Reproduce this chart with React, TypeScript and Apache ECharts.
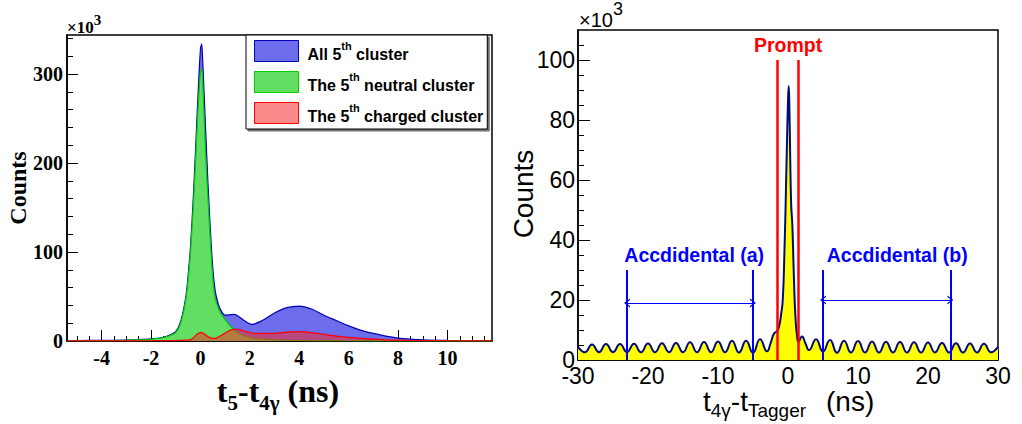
import React, { useEffect, useRef } from "react";
import * as echarts from "echarts";

// ---------- Left panel data (counts in units of 10^3) ----------
const leftX = [-5.4, -5, -4, -3, -2.5, -2, -1.5, -1.2, -1.0, -0.8, -0.6, -0.5, -0.4, -0.3, -0.2, -0.1, 0, 0.05, 0.1, 0.2, 0.3, 0.4, 0.5, 0.6, 0.7, 0.8, 1.0, 1.2, 1.35, 1.5, 1.8, 2.1, 2.5, 3.0, 3.5, 4.0, 4.5, 5.0, 5.5, 6.0, 6.5, 7.0, 7.5, 8.0, 8.5, 9.0, 10.0, 11.0, 11.8];
const allCluster = [0.4, 0.5, 0.7, 1.1, 1.6, 2.3, 4.2, 7.2, 10.5, 22, 48, 73, 107, 155, 213, 275, 328, 334, 310, 245, 180, 126, 82, 56, 44, 36, 29, 29.5, 30, 28.5, 22.5, 18.7, 23, 31.5, 37.5, 39.3, 36, 29, 23, 17, 12, 8.5, 5.5, 3.3, 2, 1.2, 0.6, 0.4, 0.3];
const neutralCluster = [0.2, 0.3, 0.4, 0.8, 1.2, 1.9, 3.7, 6.5, 9.5, 20, 45, 68, 100, 145, 200, 258, 302, 306, 285, 215, 162, 112, 70, 47, 39, 32, 24, 17, 13, 9.5, 5.5, 3.3, 2, 1.2, 0.8, 0.6, 0.5, 0.4, 0.35, 0.3, 0.25, 0.2, 0.2, 0.15, 0.1, 0.1, 0.1, 0.1, 0.1];
const chargedCluster = [0.1, 0.1, 0.15, 0.2, 0.25, 0.3, 0.35, 0.4, 0.5, 0.7, 0.9, 1.1, 1.5, 3.5, 6, 8.5, 9.4, 9.4, 9, 7, 5, 3.5, 3, 3, 4, 5.5, 9, 12, 13, 13, 11, 9, 8.5, 8.6, 10, 10.5, 9.5, 7.5, 5.5, 4, 3, 2, 1.3, 0.9, 0.6, 0.5, 0.3, 0.2, 0.2];
const leftNames = ["All 5th cluster", "The 5th neutral cluster", "The 5th charged cluster"];
const leftXMajor = [-4, -2, 0, 2, 4, 6, 8, 10];
const leftXMinor = [-5, -4.5, -3.5, -3, -2.5, -1.5, -1, -0.5, 0.5, 1, 1.5, 2.5, 3, 3.5, 4.5, 5, 5.5, 6.5, 7, 7.5, 8.5, 9, 9.5, 10.5, 11, 11.5];
const leftYMajor = [0, 100, 200, 300];
const leftYMinor = [20, 40, 60, 80, 120, 140, 160, 180, 220, 240, 260, 280, 320, 340];

// ---------- Right panel data (counts in units of 10^3) ----------
const rightX = [-30, -29, -28, -27, -26, -25, -24, -23, -22, -21, -20, -19, -18, -17, -16, -15, -14, -13, -12, -11, -10, -9, -8, -7, -6, -5, -4, -3, -2.5, -2, -1.5, -1.2, -1, -0.75, -0.5, -0.3, -0.15, 0, 0.1, 0.2, 0.3, 0.45, 0.62, 0.8, 0.95, 1.1, 1.25, 1.5, 2, 2.5, 3, 4, 5, 6, 7, 8, 9, 10, 11, 12, 13, 14, 15, 16, 17, 18, 19, 20, 21, 22, 23, 24, 25, 26, 27, 28, 29, 30];
const rightCounts = [4.4, 2.6, 5.2, 2.6, 5.3, 2.6, 5.3, 2.6, 5.4, 2.6, 5.5, 2.6, 5.6, 2.6, 5.7, 2.6, 5.9, 2.6, 6.0, 2.6, 6.2, 2.6, 6.4, 2.5, 6.4, 2.4, 6.9, 2.9, 5.5, 8.8, 9.8, 12, 15, 20, 37, 56, 72, 86, 91.3, 84, 70, 52, 45, 31, 20, 13, 9, 6, 7.8, 5.5, 3.3, 6.9, 2.8, 6.7, 2.4, 6.4, 2.5, 6.3, 2.5, 6.2, 2.5, 6.1, 2.5, 6.0, 2.5, 5.9, 2.5, 5.8, 2.5, 5.7, 2.5, 5.6, 2.5, 5.5, 2.5, 5.4, 2.6, 4.4];
const rightXMajor = [-30, -20, -10, 0, 10, 20, 30];
const rightXMinor = [-28, -26, -24, -22, -18, -16, -14, -12, -8, -6, -4, -2, 2, 4, 6, 8, 12, 14, 16, 18, 22, 24, 26, 28];
const rightYMajor = [0, 20, 40, 60, 80, 100];
const rightYMinor = [5, 10, 15, 25, 30, 35, 45, 50, 55, 65, 70, 75, 85, 90, 95, 105];

// Annotations (data coordinates)
const promptCuts = [-1.6, 1.5];
const promptTop = 100;
const accidentalCuts = [-23, -5, 5, 23.2];
const accidentalTop = 30;
const accidentalArrows = [
  [-23, -5, 19],
  [5, 23.2, 20],
];
const annotationLabels = [
  { name: "Prompt", x: 0, y: 105, color: "#ff0000" },
  { name: "Accdidental (a)", x: -13.4, y: 35, color: "#0000ff" },
  { name: "Accdidental (b)", x: 15.6, y: 35, color: "#0000ff" },
];

const SERIF = "'Liberation Serif', 'DejaVu Serif', serif";
const SANS = "'Liberation Sans', Arial, sans-serif";
const CHEVRON = "path://M5,0 L10,10 L8.4,10 L5,3.2 L1.6,10 L0,10 Z";

function axisPair(
  gridIndex: number,
  position: string,
  min: number,
  max: number,
  major: number[],
  minor: number[],
  label: any,
  majorLen: number,
  minorLen: number
) {
  const main = {
    type: "value",
    gridIndex,
    position,
    min,
    max,
    axisLine: { show: true, onZero: false, lineStyle: { color: "#000", width: 1.5 } },
    axisTick: { show: true, inside: true, length: majorLen, customValues: major, lineStyle: { color: "#000", width: 1 } },
    axisLabel: { show: true, customValues: major, ...label },
    splitLine: { show: false },
  };
  const sub = {
    type: "value",
    gridIndex,
    position,
    min,
    max,
    axisLine: { show: false, onZero: false },
    axisTick: { show: true, inside: true, length: minorLen, customValues: minor, lineStyle: { color: "#000", width: 1 } },
    axisLabel: { show: false },
    splitLine: { show: false },
  };
  return [main, sub];
}

const legendColors: Record<string, { fill: string; line: string }> = {
  "All 5th cluster": { fill: "#6d6dec", line: "#0000b4" },
  "The 5th neutral cluster": { fill: "#62de62", line: "#00d000" },
  "The 5th charged cluster": { fill: "rgba(245,40,40,0.55)", line: "#ff0000" },
};

export default function App() {
  const ref = useRef<HTMLDivElement>(null);

  useEffect(() => {
    document.body.style.margin = "0";
    if (!ref.current) return;
    const chart = echarts.init(ref.current, null, { renderer: "svg" });

    const leftLabel = { fontFamily: SERIF, fontWeight: "bold", fontSize: 20, color: "#000" };
    const rightLabel = { fontFamily: SANS, fontSize: 23, color: "#000" };

    const [lx, lx2] = axisPair(0, "bottom", -5.4, 11.8, leftXMajor, leftXMinor, { ...leftLabel, margin: 7 }, 11, 5);
    const [ly, ly2] = axisPair(0, "left", 0, 344, leftYMajor, leftYMinor, { ...leftLabel, margin: 4 }, 11, 6);
    const [rx, rx2] = axisPair(1, "bottom", -30, 30, rightXMajor, rightXMinor, { ...rightLabel, margin: 4 }, 10, 5);
    const [ry, ry2] = axisPair(1, "left", 0, 110, rightYMajor, rightYMinor, { ...rightLabel, margin: 3 }, 12, 6);

    const leftSeries = [allCluster, neutralCluster, chargedCluster].map((vals, k) => {
      const name = leftNames[k];
      const c = legendColors[name];
      return {
        name,
        type: "line",
        xAxisIndex: 0,
        yAxisIndex: 0,
        data: leftX.map((x, i) => [x, vals[i]]),
        smooth: 0.3,
        symbol: "none",
        showSymbol: false,
        lineStyle: { color: c.line, width: 1.2 },
        itemStyle: { color: c.fill },
        areaStyle: { color: c.fill, opacity: 1 },
        z: 2 + k,
      };
    });

    const markLineData: any[] = [];
    promptCuts.forEach((x) =>
      markLineData.push([
        { coord: [x, 0], lineStyle: { color: "#ff0000", width: 2.5, type: "solid" } },
        { coord: [x, promptTop] },
      ])
    );
    accidentalCuts.forEach((x) =>
      markLineData.push([
        { coord: [x, 0], lineStyle: { color: "#0000ff", width: 2, type: "solid" } },
        { coord: [x, accidentalTop] },
      ])
    );
    accidentalArrows.forEach(([a, b, y]) =>
      markLineData.push([
        { coord: [a, y], symbol: CHEVRON, symbolSize: [9, 6], lineStyle: { color: "#0000ff", width: 1, type: "solid" } },
        { coord: [b, y], symbol: CHEVRON, symbolSize: [9, 6] },
      ])
    );

    const rightSeries = {
      name: "tagger",
      type: "line",
      xAxisIndex: 2,
      yAxisIndex: 2,
      data: rightX.map((x, i) => [x, rightCounts[i]]),
      smooth: 0.5,
      symbol: "none",
      showSymbol: false,
      lineStyle: { color: "#000a7a", width: 2 },
      itemStyle: { color: "#ffff00" },
      areaStyle: { color: "#ffff00", opacity: 1 },
      z: 2,
      markLine: {
        silent: true,
        animation: false,
        symbol: ["none", "none"],
        label: { show: false },
        data: markLineData,
      },
      markPoint: {
        silent: true,
        animation: false,
        symbol: "circle",
        symbolSize: 1,
        itemStyle: { color: "rgba(0,0,0,0)" },
        label: {
          show: true,
          position: "inside",
          formatter: "{b}",
          fontFamily: SANS,
          fontWeight: "bold",
          fontSize: 19.5,
        },
        data: annotationLabels.map((l) => ({
          name: l.name,
          coord: [l.x, l.y],
          label: { color: l.color },
        })),
      },
    };

    const richLegend = {
      b: { fontFamily: SANS, fontWeight: "bold", fontSize: 16, color: "#000", verticalAlign: "top", padding: [6, 0, 0, 0] },
      s: { fontFamily: SANS, fontWeight: "bold", fontSize: 11, color: "#000", verticalAlign: "top" },
    };

    const option: any = {
      animation: false,
      backgroundColor: "#ffffff",
      grid: [
        { left: 67, top: 35, width: 425, height: 306, show: true, borderColor: "#000", borderWidth: 1.5, backgroundColor: "transparent", containLabel: false },
        { left: 578, top: 30, width: 420, height: 330, show: true, borderColor: "#000", borderWidth: 1.5, backgroundColor: "transparent", containLabel: false },
      ],
      xAxis: [lx, lx2, rx, rx2],
      yAxis: [ly, ly2, ry, ry2],
      legend: {
        data: leftNames.map((n) => ({
          name: n,
          icon: "rect",
          itemStyle: { color: legendColors[n].fill, borderColor: legendColors[n].line, borderWidth: 1 },
        })),
        orient: "vertical",
        left: 246,
        top: 35,
        padding: [5, 4, 5, 8],
        itemGap: 9,
        itemWidth: 44,
        itemHeight: 21,
        selectedMode: false,
        backgroundColor: "#ffffff",
        borderColor: "#000",
        borderWidth: 1,
        shadowColor: "rgba(0,0,0,0.55)",
        shadowBlur: 1,
        shadowOffsetX: 2,
        shadowOffsetY: 2,
        formatter: (name: string) => "{b|" + name.replace("5th", "5}{s|th}{b|") + "}",
        textStyle: { rich: richLegend, padding: [0, 0, 0, 4] },
        z: 10,
      },
      graphic: [
        // left ×10^3
        {
          type: "text",
          x: 67,
          y: 12,
          style: {
            text: "{a|×10}{s|3}",
            rich: {
              a: { fontFamily: SERIF, fontWeight: "bold", fontSize: 17, fill: "#000", color: "#000", verticalAlign: "top", padding: [7, 0, 0, 0] },
              s: { fontFamily: SERIF, fontWeight: "bold", fontSize: 15, fill: "#000", color: "#000", verticalAlign: "top" },
            },
          },
        },
        // left y title
        {
          type: "text",
          x: 18,
          y: 188,
          rotation: Math.PI / 2,
          style: {
            text: "Counts",
            fontFamily: SERIF,
            fontWeight: "bold",
            fontSize: 24,
            fill: "#000",
            align: "center",
            verticalAlign: "middle",
            textAlign: "center",
            textVerticalAlign: "middle",
          },
        },
        // left x title
        {
          type: "text",
          x: 278,
          y: 375,
          style: {
            text: "{m|t}{b|5}{m|-t}{b|4γ}{m| (ns)}",
            align: "center",
            verticalAlign: "top",
            textAlign: "center",
            textVerticalAlign: "top",
            rich: {
              m: { fontFamily: SERIF, fontWeight: "bold", fontSize: 32, color: "#000", fill: "#000", verticalAlign: "top" },
              b: { fontFamily: SERIF, fontWeight: "bold", fontSize: 21, color: "#000", fill: "#000", verticalAlign: "top", padding: [17, 0, 0, 0] },
            },
          },
        },
        // right ×10^3
        {
          type: "text",
          x: 579,
          y: 0,
          style: {
            text: "{a|×10}{s|3}",
            rich: {
              a: { fontFamily: SANS, fontSize: 20, color: "#000", fill: "#000", verticalAlign: "top", padding: [10, 0, 0, 0] },
              s: { fontFamily: SANS, fontSize: 18, color: "#000", fill: "#000", verticalAlign: "top" },
            },
          },
        },
        // right y title
        {
          type: "text",
          x: 523,
          y: 194,
          rotation: Math.PI / 2,
          style: {
            text: "Counts",
            fontFamily: SANS,
            fontSize: 28,
            fill: "#000",
            align: "center",
            verticalAlign: "middle",
            textAlign: "center",
            textVerticalAlign: "middle",
          },
        },
        // right x title
        {
          type: "text",
          x: 703,
          y: 387,
          style: {
            text: "{m|t}{b|4γ}{m|-t}{b|Tagger}",
            align: "left",
            verticalAlign: "top",
            textAlign: "left",
            textVerticalAlign: "top",
            rich: {
              m: { fontFamily: SANS, fontSize: 28, color: "#000", fill: "#000", verticalAlign: "top" },
              b: { fontFamily: SANS, fontSize: 19, color: "#000", fill: "#000", verticalAlign: "top", padding: [14, 0, 0, 0] },
            },
          },
        },
        {
          type: "text",
          x: 826,
          y: 387,
          style: {
            text: "(ns)",
            fontFamily: SANS,
            fontSize: 28,
            fill: "#000",
            align: "left",
            verticalAlign: "top",
            textAlign: "left",
            textVerticalAlign: "top",
          },
        },
      ],
      series: [...leftSeries, rightSeries],
    };

    chart.setOption(option);
    return () => chart.dispose();
  }, []);

  return <div ref={ref} style={{ width: 1022, height: 424 }} />;
}
